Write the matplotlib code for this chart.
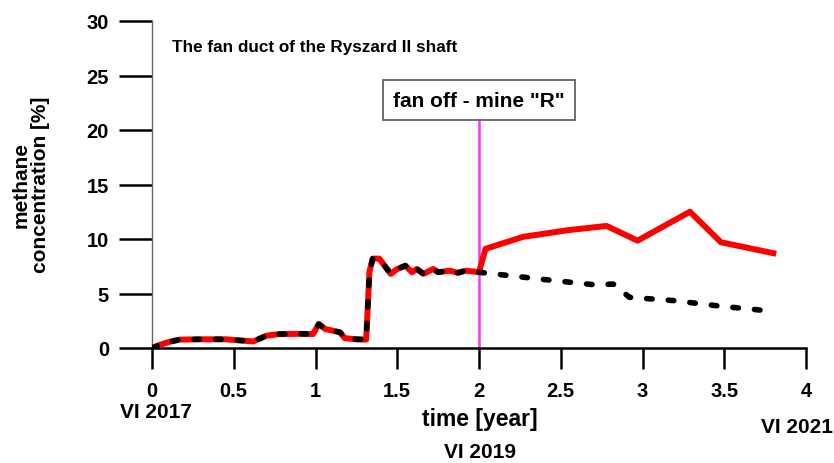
import matplotlib
matplotlib.use("Agg")
import matplotlib.pyplot as plt

plt.rcParams['font.family'] = ['Liberation Sans', 'DejaVu Sans']

# common history (both series identical until fan switch-off)
x_common = [0.0, 0.05, 0.11, 0.17, 0.30, 0.45, 0.62, 0.70, 0.78, 0.90, 0.985, 1.02, 1.06,
            1.15, 1.18, 1.25, 1.31, 1.33, 1.35, 1.39, 1.46, 1.50, 1.55, 1.59, 1.62, 1.66,
            1.72, 1.75, 1.82, 1.87, 1.92, 2.0]
y_common = [0.0, 0.3, 0.58, 0.77, 0.8, 0.8, 0.6, 1.13, 1.28, 1.3, 1.28, 2.2, 1.74,
            1.44, 0.9, 0.8, 0.77, 7.0, 8.2, 8.2, 6.8, 7.25, 7.55, 6.95, 7.25, 6.8,
            7.25, 6.95, 7.1, 6.9, 7.1, 6.95]

# after fan off: measured (red) vs. prognosis (black dashed)
x_red_after = [2.04, 2.27, 2.54, 2.78, 2.97, 3.29, 3.48, 3.80]
y_red_after = [9.1, 10.2, 10.8, 11.2, 9.85, 12.5, 9.7, 8.7]
x_blk_after = [2.21, 2.45, 2.72, 2.82, 2.86, 2.92, 3.19, 3.47, 3.76]
y_blk_after = [6.6, 6.2, 5.78, 5.87, 5.4, 4.65, 4.35, 3.85, 3.42]

x_ticks = [0, 0.5, 1, 1.5, 2, 2.5, 3, 3.5, 4]
y_ticks = [0, 5, 10, 15, 20, 25, 30]
fan_off_x = 2.0

x_red = x_common + x_red_after
y_red = y_common + y_red_after
x_blk = x_common + x_blk_after
y_blk = y_common + y_blk_after

fig = plt.figure(figsize=(8.34, 4.64), dpi=100)
ax = fig.add_axes([152/834, 1-349/464, (806-152)/834, (349-22)/464])

ax.plot(x_red, y_red, color='#ff0000', lw=4.3, solid_joinstyle='round', zorder=3)
ax.plot(x_blk, y_blk, color='black', lw=4.0, dashes=(1.0, 2.9), dash_capstyle='round', zorder=4)

ax.plot([fan_off_x, fan_off_x], [0, 21.0], color='#ff33ff', lw=1.8, zorder=2)
ax.text(fan_off_x, 22.75, 'fan off - mine "R"', ha='center', va='center', fontsize=15,
        fontweight='bold',
        bbox=dict(boxstyle='square,pad=0.5', fc='white', ec='#555555', lw=1.2))

ax.text(0.12, 27.7, 'The fan duct of the Ryszard II shaft', fontsize=12.3, fontweight='bold',
        ha='left', va='center')

ax.set_xlim(0, 4)
ax.set_ylim(0, 30)
ax.set_xticks(x_ticks)
ax.set_xticklabels([f'{t:g}' for t in x_ticks])
ax.set_yticks(y_ticks)
ax.set_yticklabels([str(t) for t in y_ticks])
ax.spines['top'].set_visible(False)
ax.spines['right'].set_visible(False)
ax.spines['left'].set_color('#666666')
ax.spines['left'].set_linewidth(1.0)
ax.spines['bottom'].set_linewidth(1.8)
ax.tick_params(axis='x', length=15, width=1.8, direction='out', pad=9, labelsize=14.5)
ax.tick_params(axis='y', length=24, width=1.8, direction='out', pad=7, labelsize=14.5)
for lab in ax.get_xticklabels() + ax.get_yticklabels():
    lab.set_fontweight('bold')

fig.text(31/834, 1-185/464, 'methane\nconcentration [%]', rotation=90, ha='center', va='center',
         fontsize=15, fontweight='bold', linespacing=1.0, multialignment='center')

fig.text(480/834, 1-420/464, 'time [year]', ha='center', va='center', fontsize=16.5, fontweight='bold')
fig.text(156/834, 1-413/464, 'VI 2017', ha='center', va='center', fontsize=15, fontweight='bold')
fig.text(797/834, 1-428/464, 'VI 2021', ha='center', va='center', fontsize=15, fontweight='bold')
fig.text(480/834, 1-453/464, 'VI 2019', ha='center', va='center', fontsize=15, fontweight='bold')

fig.savefig('out.png', dpi=100)
